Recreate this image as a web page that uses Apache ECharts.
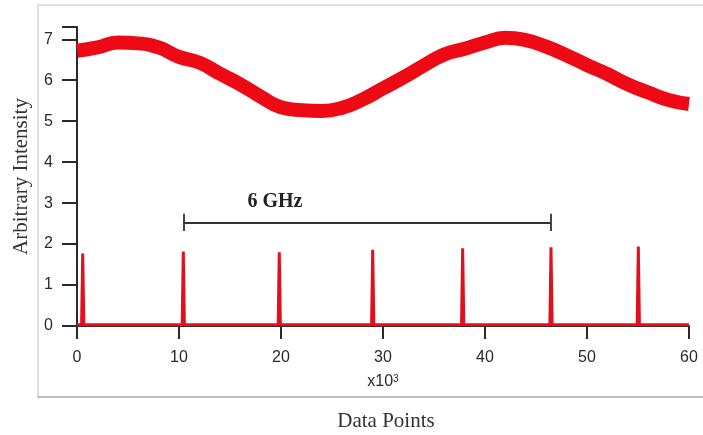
<!DOCTYPE html>
<html><head><meta charset="utf-8">
<script src="https://cdn.jsdelivr.net/npm/echarts@6/dist/echarts.min.js"></script>
<style>html,body{margin:0;padding:0;background:#fff}#c{width:703px;height:435px}</style>
</head><body><div id="c"></div>
<script>
// Upper trace (centre of the noisy band), read every 2000 data points
const signalX = [0,2000,4000,6000,8000,10000,12000,14000,16000,18000,20000,22000,24000,26000,28000,30000,32000,34000,36000,38000,40000,42000,44000,46000,48000,50000,52000,54000,56000,58000,60000];
const signalY = [6.72,6.80,6.92,6.90,6.80,6.57,6.43,6.16,5.90,5.60,5.34,5.27,5.25,5.33,5.53,5.80,6.07,6.36,6.63,6.77,6.92,7.04,6.98,6.82,6.61,6.37,6.15,5.90,5.70,5.52,5.42];
// Lower trace: comb peaks
const peakX = [560,10420,19830,28990,37810,46470,55030];
const peakY = [1.77,1.82,1.80,1.86,1.90,1.92,1.94];
const baseLevel = 0.03;
const traceStart = 0, traceEnd = 60000;
// Ticks
const xTickValues = [0,10000,20000,30000,40000,50000,60000];
const xTickLabels = ['0','10','20','30','40','50','60'];
const yTickValues = [0,1,2,3,4,5,6,7];
const yTickLabels = ['0','1','2','3','4','5','6','7'];
// Annotation
const bracketStart = 10420, bracketEnd = 46470, bracketLevel = 2.52, capLow = 2.32, capHigh = 2.74;
const bracketText = '6 GHz', bracketTextAt = [19400, 3.03];

const upper = signalX.map((x, i) => [x, signalY[i]]);
const halfW = 110;
const lower = [[traceStart, baseLevel]];
peakX.forEach((p, i) => { lower.push([p - halfW, baseLevel], [p, peakY[i]], [p + halfW, baseLevel]); });
lower.push([traceEnd, baseLevel]);

const chart = echarts.init(document.getElementById('c'));
const black = '#2a2a2a';
chart.setOption({
  animation: false,
  backgroundColor: '#fff',
  grid: { left: 77, right: 14, top: 27, bottom: 109, containLabel: false, outerBoundsMode: 'none' },
  xAxis: {
    type: 'value', min: 0, max: 60000, interval: 10000, offset: 2,
    name: 'x10{s|3}', nameLocation: 'middle', nameGap: 46, nameMoveOverlap: false,
    nameTextStyle: { fontFamily: 'Liberation Sans', fontSize: 16, color: black,
      rich: { s: { fontFamily: 'Liberation Sans', fontSize: 10, color: black, verticalAlign: 'top', lineHeight: 10, padding: [0,0,9,0] } } },
    axisLine: { show: true, lineStyle: { color: black, width: 2 } },
    axisTick: { show: true, length: 13, lineStyle: { color: black, width: 2 } },
    axisLabel: { margin: 22, fontFamily: 'Liberation Sans', fontSize: 16, color: black,
      formatter: v => { const k = xTickValues.indexOf(v); return k >= 0 ? xTickLabels[k] : ''; } },
    splitLine: { show: false }
  },
  yAxis: {
    type: 'value', min: 0, max: 7.3, interval: 1, offset: 3,
    name: 'Arbitrary Intensity', nameLocation: 'middle', nameGap: 42, nameMoveOverlap: false,
    nameTextStyle: { fontFamily: 'Liberation Serif', fontSize: 21, color: '#333' },
    axisLine: { show: true, lineStyle: { color: black, width: 2 } },
    axisTick: { show: true, length: 15, lineStyle: { color: black, width: 2 } },
    axisLabel: { margin: 21, fontFamily: 'Liberation Sans', fontSize: 16, color: black,
      formatter: v => { const k = yTickValues.indexOf(v); return k >= 0 ? yTickLabels[k] : ''; } },
    splitLine: { show: false }
  },
  graphic: [
    { type: 'rect', shape: { x: 38, y: 5, width: 720, height: 392 }, style: { fill: 'none', stroke: '#d6d6d6', lineWidth: 1.5 }, z: -1 },
    { type: 'line', shape: { x1: 38, y1: 397, x2: 703, y2: 397 }, style: { stroke: '#bdbdbd', lineWidth: 2 }, z: -1 },
    { type: 'text', x: 386, y: 421, style: { text: 'Data Points', font: '21px "Liberation Serif"', fill: '#333', textAlign: 'center', textVerticalAlign: 'middle' } }
  ],
  series: [
    { type: 'line', data: upper, smooth: true, showSymbol: false, symbol: 'none',
      lineStyle: { color: '#ee0a14', width: 14 } },
    { type: 'line', data: lower, showSymbol: false, symbol: 'none',
      lineStyle: { color: '#e0101c', width: 3 },
      markLine: { silent: true, symbol: 'none', label: { show: false },
        lineStyle: { color: '#333', width: 1.8, type: 'solid' },
        data: [
          [{ coord: [bracketStart, bracketLevel] }, { coord: [bracketEnd, bracketLevel] }],
          [{ coord: [bracketStart, capLow] }, { coord: [bracketStart, capHigh] }],
          [{ coord: [bracketEnd, capLow] }, { coord: [bracketEnd, capHigh] }]
        ] },
      markPoint: { silent: true, symbol: 'circle', symbolSize: 0,
        label: { show: true, position: 'inside', formatter: bracketText, fontFamily: 'Liberation Serif', fontSize: 20, fontWeight: 'bold', color: '#222' },
        data: [{ coord: bracketTextAt }] } }
  ]
});
</script></body></html>
